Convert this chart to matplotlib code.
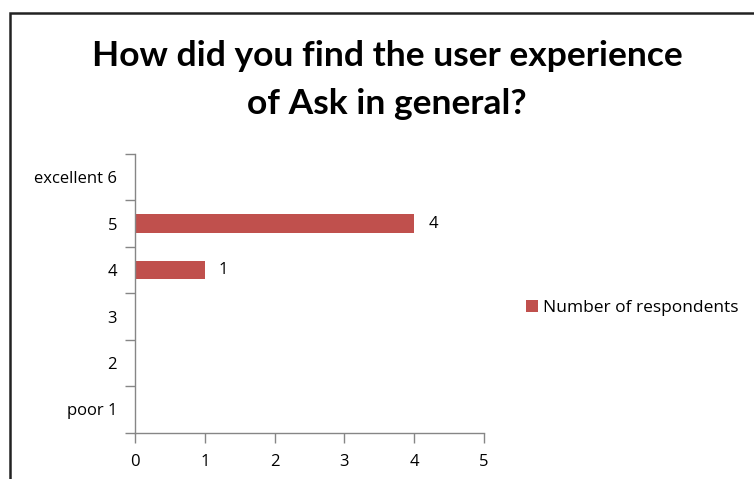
import matplotlib.pyplot as plt
from matplotlib.patches import Rectangle

# survey answers, bottom to top
ratings = [1, 2, 3, 4, 5, 6]
rating_labels = ['poor 1', '2', '3', '4', '5', 'excellent 6']
respondents = [0, 0, 0, 1, 4, 0]
series_name = 'Number of respondents'

bar_color = '#C0504D'
axis_color = '#868686'
label_size = 12

plt.rcParams['font.family'] = ['Open Sans', 'DejaVu Sans']

fig = plt.figure(figsize=(7.54, 4.79), dpi=100)
ax = fig.add_axes([135 / 754, 1 - 432.7 / 479, 349 / 754, (432.7 - 154) / 479])

# only draw bars with responses, label them with the count
for r, n in zip(ratings, respondents):
    if n > 0:
        ax.barh(r, n, height=0.4, color=bar_color, label=series_name if n == 4 else None)
        ax.text(n + 0.2, r, str(n), va='center', ha='left', fontsize=label_size)

ax.set_xlim(0, 5)
ax.set_ylim(0.5, 6.5)
ax.set_xticks(range(0, 6))
ax.set_yticks(ratings)
ax.set_yticklabels(rating_labels)
ax.set_yticks([r + 0.5 for r in [0] + ratings], minor=True)
ax.tick_params(axis='y', which='major', length=0, pad=13, labelsize=label_size)
ax.tick_params(axis='y', which='minor', length=7, color=axis_color, width=1)
ax.tick_params(axis='x', length=7, color=axis_color, width=1, pad=8, labelsize=label_size)

for side in ['top', 'right']:
    ax.spines[side].set_visible(False)
for side in ['left', 'bottom']:
    ax.spines[side].set_color(axis_color)
    ax.spines[side].set_linewidth(1)

title_font = dict(family=['Lato', 'DejaVu Sans'], fontsize=25.5, fontweight='bold',
                  ha='center', va='center')
fig.text(387 / 754, 1 - 56 / 479, 'How did you find the user experience', **title_font)
fig.text(387 / 754, 1 - 104 / 479, 'of Ask in general?', **title_font)

fig.legend(loc='center left', bbox_to_anchor=(519 / 754, 1 - 308 / 479), frameon=False,
           handlelength=0.7, handleheight=0.7, handletextpad=0.3, fontsize=12.5,
           borderaxespad=0)

# chart frame, runs off the right and bottom edges
fig.patches.append(Rectangle((10 / 754, -0.1), 1.2, 1 - 13 / 479 + 0.1,
                             transform=fig.transFigure, fill=False,
                             edgecolor='#222222', linewidth=1.8))

fig.savefig('out.png', dpi=100)
